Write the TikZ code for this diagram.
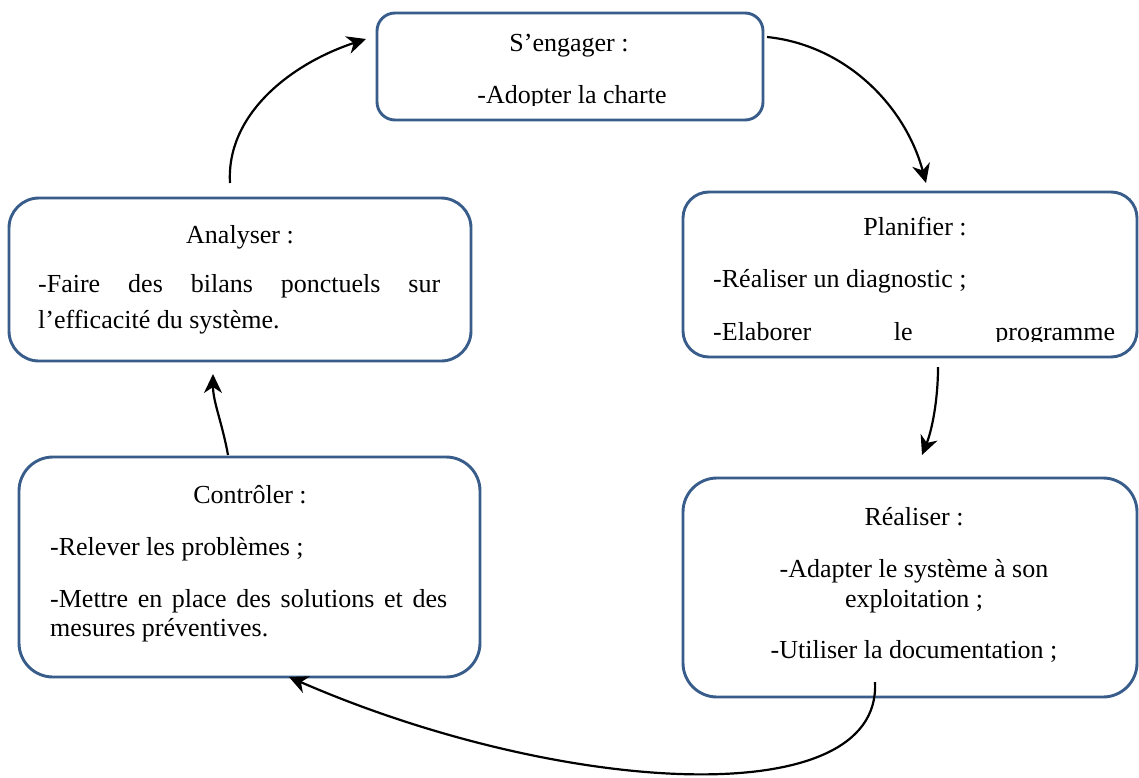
\documentclass[tikz,border=0pt]{standalone}
\usepackage{fontspec}
\setmainfont{Liberation Serif}
\usetikzlibrary{arrows.meta}
\definecolor{boxblue}{HTML}{385D8A}
\tikzset{
  box/.style={draw=boxblue, line width=2.9pt, fill=white, rectangle, inner sep=0pt},
  txt/.style={inner sep=0pt, font=\fontsize{26}{30}\selectfont},
  conn/.style={line width=2.2pt, -{Stealth[length=19pt,width=18pt,inset=6pt]}}
}
\begin{document}
\begin{tikzpicture}[x=1pt,y=-1pt]
\useasboundingbox[fill=white] (0,0) rectangle (1139,778);

% boxes
\node[box, rounded corners=18pt, minimum width=386pt, minimum height=107pt] (eng) at (570,66.5) {};
\node[box, rounded corners=26pt, minimum width=454pt, minimum height=165pt] (pla) at (910,274.5) {};
\node[box, rounded corners=30pt, minimum width=462pt, minimum height=163pt] (ana) at (240,279.5) {};
\node[box, rounded corners=34pt, minimum width=454pt, minimum height=219pt] (rea) at (910,587.5) {};
\node[box, rounded corners=34pt, minimum width=461pt, minimum height=220pt] (con) at (249.5,567) {};

% S'engager
\begin{scope}
\clip (377,0) rectangle (763,106);
\node[txt, anchor=base] (eng1) at (569,52) {S’engager :};
\node[txt, anchor=base] (eng2) at (572,104) {-Adopter la charte};
\end{scope}

% Planifier
\begin{scope}
\clip (683,185) rectangle (1139,341.5);
\node[txt, anchor=base] (pla1) at (915,235) {Planifier :};
\node[txt, anchor=base west] (pla2) at (713,287) {-Réaliser un diagnostic ;};
\node[txt, anchor=base west] (pla3) at (713,340) {\makebox[402pt][s]{-Elaborer le programme}};
\end{scope}

% Analyser
\node[txt, anchor=base] (ana1) at (240,243) {Analyser :};
\node[txt, anchor=base west] (ana2) at (38,292) {\makebox[402pt][s]{-Faire des bilans ponctuels sur}};
\node[txt, anchor=base west] (ana3) at (38,328) {l’efficacité du système.};

% Contrôler
\node[txt, anchor=base] (con1) at (250,503) {Contrôler :};
\node[txt, anchor=base west] (con2) at (50,555) {-Relever les problèmes ;};
\node[txt, anchor=base west] (con3) at (50,607) {\makebox[397pt][s]{-Mettre en place des solutions et des}};
\node[txt, anchor=base west] (con4) at (50,636) {mesures préventives.};

% Réaliser
\node[txt, anchor=base] (rea1) at (914,525) {Réaliser :};
\node[txt, anchor=base] (rea2) at (914,577) {-Adapter le système à son};
\node[txt, anchor=base] (rea3) at (914,607) {exploitation ;};
\node[txt, anchor=base] (rea4) at (914,658) {-Utiliser la documentation ;};

% connector ends
\coordinate (a1s) at (230,183);
\coordinate (a1e) at (366,39);
\coordinate (a2s) at (767,37);
\coordinate (a2e) at (926,183);
\coordinate (a3s) at (938,367);
\coordinate (a3e) at (922,455);
\coordinate (a4s) at (875,682);
\coordinate (a4e) at (289,677);
\coordinate (a5s) at (228,455);
\coordinate (a5e) at (213,374);

\draw[conn] (a1s) .. controls (226,115) and (290,64) .. (a1e);
\draw[conn] (a2s) .. controls (845,45) and (905,105) .. (a2e);
\draw[conn] (a3s) .. controls (938,400) and (932,430) .. (a3e);
\draw[conn] (a4s) .. controls (882,815) and (560,795) .. (a4e);
\draw[conn] (a5s) .. controls (222,422) and (213,402) .. (a5e);
\end{tikzpicture}
\end{document}
